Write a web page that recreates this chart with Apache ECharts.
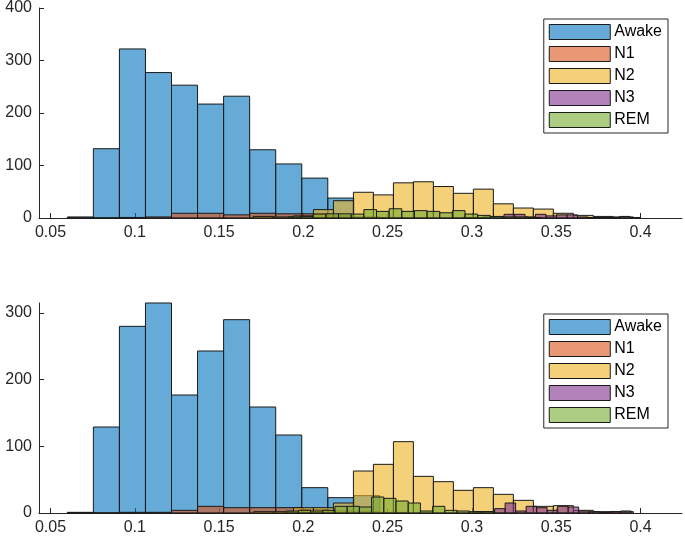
<!DOCTYPE html>
<html>
<head>
<meta charset="utf-8">
<script src="https://cdn.jsdelivr.net/npm/echarts@6/dist/echarts.min.js"></script>
<style>html,body{margin:0;padding:0;background:#fff}#c{width:685px;height:543px}</style>
</head>
<body>
<div id="c"></div>
<script>
// ---------- data ----------
const stages = ['Awake', 'N1', 'N2', 'N3', 'REM'];
const xTicks = [0.05, 0.1, 0.15, 0.2, 0.25, 0.3, 0.35, 0.4];
const yTicksTop = [0, 100, 200, 300, 400];
const yTicksBottom = [0, 100, 200, 300];

// bin definitions (first edge, bin width)
const awakeStart = 0.0600, awakeWidth = 0.01545;
const n1Start = 0.0600, n1Width = 0.01545;
const n2Start = 0.1704, n2Width = 0.01186;
const n3StartTop = 0.2941, n3StartBottom = 0.3010, n3Width = 0.00623;
const remStartTop = 0.1909, remWidthTop = 0.0075;
const remStartBottom = 0.1898, remWidthBottom = 0.00724;

// top panel counts
const awakeTop = [2, 132, 322, 277, 253, 217, 232, 130, 103, 76, 38];
const n1Top = [0, 0, 1, 2, 9, 9, 6, 9, 8, 8, 4, 2, 1];
const n2Top = [3, 2, 4, 16, 33, 49, 44, 67, 69, 60, 47, 55, 27, 19, 17, 9, 5, 3, 2];
const n3Top = [1, 1, 2, 2, 7, 7, 2, 7, 4, 6, 6, 2, 1, 1, 1, 3, 1];
const remTop = [2, 3, 7.5, 8, 8, 7.5, 16, 12.6, 17.6, 12.6, 14, 12.6, 10, 14, 7.5, 5, 3, 2, 2, 1];

// bottom panel counts
const awakeBottom = [1, 129, 280, 315, 177, 243, 290, 159, 117, 38, 23, 26];
const n1Bottom = [0, 0, 1, 1, 4, 10, 8, 8, 8, 5, 3, 2, 1];
const n2Bottom = [2, 2, 8, 8, 15, 63, 73, 107, 55, 47, 34, 38, 28, 19, 10, 11, 4, 2, 2];
const n3Bottom = [2, 2, 6.5, 15, 3, 10, 8, 4, 10, 9, 3, 2, 1, 2, 3];
const remBottom = [3, 4, 3, 4, 10, 10, 9, 24, 22, 18, 15, 3, 10, 4, 3, 2, 2];

// ---------- chart ----------
const fills = {
  Awake: 'rgba(0,114,189,0.6)',
  N1: 'rgba(217,83,25,0.6)',
  N2: 'rgba(237,177,32,0.6)',
  N3: 'rgba(126,47,142,0.6)',
  REM: 'rgba(119,172,48,0.6)'
};
const edge = '#1a1a1a';
const axisColor = '#262626';
const font = 'Liberation Sans, Arial, Helvetica, sans-serif';

function bins(start, width, counts) {
  return counts.map((c, i) => [start + i * width, start + (i + 1) * width, c]);
}

function renderItem(params, api) {
  const p0 = api.coord([api.value(0), api.value(2)]);
  const p1 = api.coord([api.value(1), 0]);
  return {
    type: 'rect',
    shape: { x: p0[0], y: p0[1], width: p1[0] - p0[0], height: p1[1] - p0[1] },
    style: { fill: fills[params.seriesName], stroke: edge, lineWidth: 1 }
  };
}

function hist(name, idx, data) {
  return {
    type: 'custom', name: name, xAxisIndex: idx, yAxisIndex: idx,
    renderItem: renderItem, data: data,
    encode: { x: [0, 1], y: 2 },
    itemStyle: { color: fills[name], borderColor: edge, borderWidth: 1 },
    silent: true, animation: false
  };
}

const panels = [
  { awake: awakeTop, n1: n1Top, n2: n2Top, n3: n3Top, n3s: n3StartTop, rem: remTop, rs: remStartTop, rw: remWidthTop },
  { awake: awakeBottom, n1: n1Bottom, n2: n2Bottom, n3: n3Bottom, n3s: n3StartBottom, rem: remBottom, rs: remStartBottom, rw: remWidthBottom }
];

const series = [];
panels.forEach((p, i) => {
  series.push(hist('Awake', i, bins(awakeStart, awakeWidth, p.awake)));
  series.push(hist('N1', i, bins(n1Start, n1Width, p.n1)));
  series.push(hist('N2', i, bins(n2Start, n2Width, p.n2)));
  series.push(hist('N3', i, bins(p.n3s, n3Width, p.n3)));
  series.push(hist('REM', i, bins(p.rs, p.rw, p.rem)));
});

function xAxis(idx) {
  return {
    type: 'value', gridIndex: idx, min: 0.0432, max: 0.4246,
    axisLine: { show: true, onZero: false, lineStyle: { color: axisColor, width: 1 } },
    axisTick: { show: true, inside: true, length: 5, customValues: xTicks, lineStyle: { color: axisColor } },
    axisLabel: { customValues: xTicks, color: axisColor, fontSize: 16, fontFamily: font, margin: 7,
      formatter: v => String(+Number(v).toFixed(2)) },
    splitLine: { show: false }
  };
}
function yAxis(idx, max, ticks) {
  return {
    type: 'value', gridIndex: idx, min: 0, max: max,
    axisLine: { show: true, lineStyle: { color: axisColor, width: 1 } },
    axisTick: { show: true, inside: true, length: 5, customValues: ticks, lineStyle: { color: axisColor } },
    axisLabel: { customValues: ticks, color: axisColor, fontSize: 16, fontFamily: font, margin: 7 },
    splitLine: { show: false }
  };
}
function legend(top) {
  return {
    top: top, right: 17, orient: 'vertical', selectedMode: false,
    itemWidth: 61, itemHeight: 15, itemGap: 6, padding: [5, 5, 5, 5],
    borderColor: axisColor, borderWidth: 1, backgroundColor: '#fff',
    textStyle: { fontSize: 16, lineHeight: 15, color: '#000', fontFamily: font, padding: [0, 1, 0, -1] },
    data: stages.map(s => ({ name: s, icon: 'rect', itemStyle: { color: fills[s], borderColor: edge, borderWidth: 1 } }))
  };
}

const chart = echarts.init(document.getElementById('c'), null, { renderer: 'canvas' });
chart.setOption({
  animation: false,
  backgroundColor: '#fff',
  grid: [
    { left: 39, right: 3, top: 7, height: 211 },
    { left: 39, right: 3, top: 303, height: 210 }
  ],
  xAxis: [xAxis(0), xAxis(1)],
  yAxis: [yAxis(0, 400, yTicksTop), yAxis(1, 315, yTicksBottom)],
  legend: [legend(19), legend(314)],
  series: series
});
</script>
</body>
</html>
